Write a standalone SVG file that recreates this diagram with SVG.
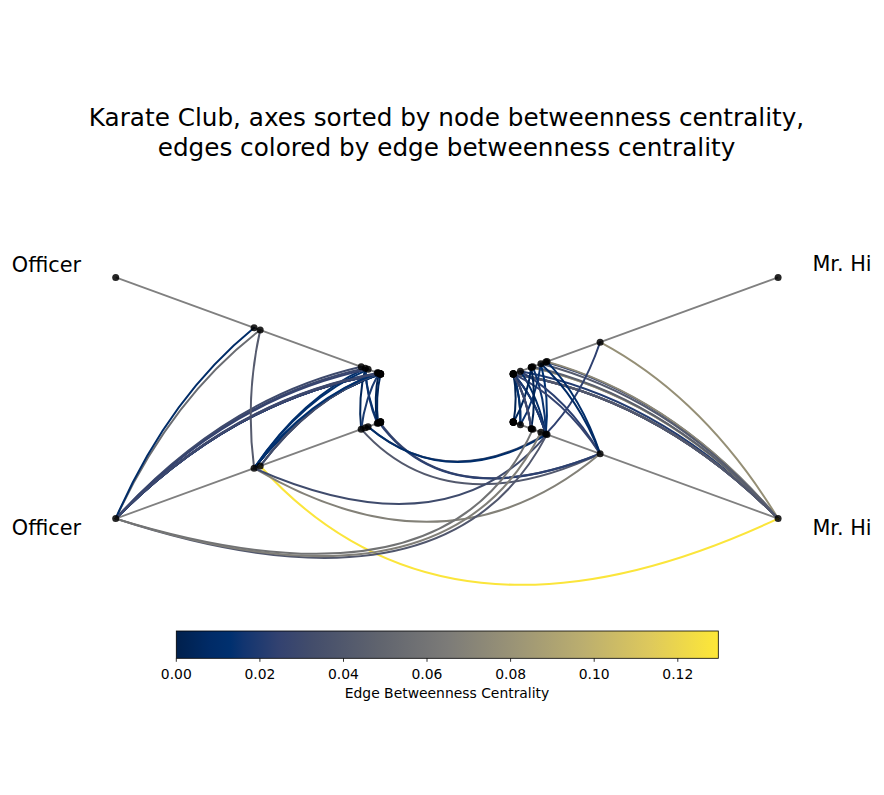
<svg xmlns="http://www.w3.org/2000/svg" width="884" height="795" viewBox="0 0 884 795">
<defs>
<style>
text{font-family:"DejaVu Sans","Liberation Sans",sans-serif;fill:#000}
.title{font-size:24.7px;text-anchor:middle}
.axlab{font-size:20.8px;text-anchor:middle}
.tick{font-size:13.9px;text-anchor:middle}
.axis{stroke:#808080;stroke-width:1.8;fill:none}
#edges path{fill:none;stroke-width:2;stroke-linecap:round}
.nd{fill:#000;fill-opacity:0.85}
</style>
<linearGradient id="cividis" x1="0" y1="0" x2="1" y2="0">
<stop offset="0" stop-color="#00204d"/>
<stop offset="0.063" stop-color="#002b67"/>
<stop offset="0.1" stop-color="#00306f"/>
<stop offset="0.125" stop-color="#123570"/>
<stop offset="0.19" stop-color="#334270"/>
<stop offset="0.25" stop-color="#434d6b"/>
<stop offset="0.375" stop-color="#60646e"/>
<stop offset="0.5" stop-color="#7c7b78"/>
<stop offset="0.625" stop-color="#9b9476"/>
<stop offset="0.75" stop-color="#bbae6f"/>
<stop offset="0.875" stop-color="#dec95c"/>
<stop offset="1" stop-color="#fee837"/>
</linearGradient>
</defs>
<rect width="884" height="795" fill="#fff"/>
<text class="title" x="446.5" y="125.7">Karate Club, axes sorted by node betweenness centrality,</text>
<text class="title" x="446.5" y="155.7">edges colored by edge betweenness centrality</text>

<g id="axes">
<line class="axis" x1="115.7" y1="277.4" x2="380.6" y2="373.9"/>
<line class="axis" x1="115.7" y1="518.6" x2="380.6" y2="422.1"/>
<line class="axis" x1="778.1" y1="518.6" x2="513.2" y2="422.1"/>
<line class="axis" x1="778.1" y1="277.4" x2="513.2" y2="373.9"/>
</g>
<g id="axis-labels">
<text class="axlab" x="46.5" y="271.5">Officer</text>
<text class="axlab" x="46.5" y="535">Officer</text>
<text class="axlab" x="842" y="271">Mr. Hi</text>
<text class="axlab" x="842" y="535">Mr. Hi</text>
</g>

<g id="edges">
<path d="M380.6,373.9 Q309.1,398 254.1,468.2" stroke="#002d6a"/>
<path d="M380.6,373.9 Q235.4,398 115.7,518.6" stroke="#2c4070"/>
<path d="M380.6,373.9 Q309.1,398 254.1,468.2" stroke="#002d6a"/>
<path d="M380.6,373.9 Q235.4,398 115.7,518.6" stroke="#2c4070"/>
<path d="M380.6,373.9 Q309.1,398 254.1,468.2" stroke="#002d6a"/>
<path d="M380.6,373.9 Q235.4,398 115.7,518.6" stroke="#2c4070"/>
<path d="M380.6,373.9 Q309.1,398 254.1,468.2" stroke="#002d6a"/>
<path d="M380.6,373.9 Q235.4,398 115.7,518.6" stroke="#2c4070"/>
<path d="M380.6,373.9 Q309.1,398 254.1,468.2" stroke="#002d6a"/>
<path d="M380.6,373.9 Q235.4,398 115.7,518.6" stroke="#2c4070"/>
<path d="M365.3,368.3 Q366.5,398 377.3,423.3" stroke="#1f3b70"/>
<path d="M365.3,368.3 Q357.9,398 361.2,429.2" stroke="#00265a"/>
<path d="M365.3,368.3 Q366.9,398 378.1,423.0" stroke="#06326f"/>
<path d="M365.3,368.3 Q300.9,398 254.1,468.2" stroke="#002e6b"/>
<path d="M365.3,368.3 Q227.3,398 115.7,518.6" stroke="#3c486d"/>
<path d="M378.7,373.2 Q373.6,398 377.3,423.3" stroke="#002252"/>
<path d="M378.7,373.2 Q365.0,398 361.2,429.2" stroke="#1a3a70"/>
<path d="M378.7,373.2 Q311.3,398 260.2,466.0" stroke="#4f566d"/>
<path d="M377.3,372.7 Q310.5,398 260.2,466.0" stroke="#565b6e"/>
<path d="M380.6,373.9 Q375.1,398 378.1,423.0" stroke="#00275c"/>
<path d="M380.6,373.9 Q235.4,398 115.7,518.6" stroke="#34436f"/>
<path d="M361.2,366.8 Q225.1,398 115.7,518.6" stroke="#3e4a6c"/>
<path d="M379.1,373.3 Q311.5,398 260.2,466.0" stroke="#414c6b"/>
<path d="M379.1,373.3 Q234.6,398 115.7,518.6" stroke="#00306f"/>
<path d="M378.1,373.0 Q307.7,398 254.1,468.2" stroke="#00306f"/>
<path d="M378.1,373.0 Q234.1,398 115.7,518.6" stroke="#3c486d"/>
<path d="M368.1,369.3 Q302.4,398 254.1,468.2" stroke="#00306f"/>
<path d="M368.1,369.3 Q228.7,398 115.7,518.6" stroke="#35436f"/>
<path d="M260.2,330.0 Q245.0,398 254.1,468.2" stroke="#565b6e"/>
<path d="M260.2,330.0 Q171.3,398 115.7,518.6" stroke="#6a6c71"/>
<path d="M254.1,327.8 Q168.1,398 115.7,518.6" stroke="#002c68"/>
<path d="M379.9,373.6 Q235.0,398 115.7,518.6" stroke="#3d486d"/>

<path d="M778.1,518.6 Q675.8,398 545.8,362.0" stroke="#34436f"/>
<path d="M778.1,518.6 Q704.7,398 600.1,342.2" stroke="#958f76"/>
<path d="M778.1,518.6 Q662.3,398 520.4,371.3" stroke="#233c70"/>
<path d="M778.1,518.6 Q658.6,398 513.5,373.8" stroke="#666970"/>
<path d="M778.1,518.6 Q668.1,398 531.3,367.3" stroke="#958f76"/>
<path d="M778.1,518.6 Q668.1,398 531.3,367.3" stroke="#958f76"/>
<path d="M778.1,518.6 Q658.4,398 513.2,373.9" stroke="#2c4070"/>
<path d="M778.1,518.6 Q676.4,398 547.0,361.6" stroke="#8e8977"/>
<path d="M778.1,518.6 Q658.6,398 513.5,373.8" stroke="#666970"/>
<path d="M778.1,518.6 Q658.4,398 513.2,373.9" stroke="#717274"/>
<path d="M778.1,518.6 Q658.4,398 513.2,373.9" stroke="#5c616e"/>
<path d="M778.1,518.6 Q673.2,398 540.9,363.8" stroke="#555b6e"/>
<path d="M778.1,518.6 Q658.4,398 513.2,373.9" stroke="#51576d"/>
<path d="M778.1,518.6 Q668.9,398 532.8,366.7" stroke="#5b606e"/>
<path d="M778.1,518.6 Q658.4,398 513.2,373.9" stroke="#51576d"/>
<path d="M545.8,434.0 Q581.1,398 600.1,342.2" stroke="#2e4070"/>
<path d="M545.8,434.0 Q538.7,398 520.4,371.3" stroke="#002b66"/>
<path d="M545.8,434.0 Q534.8,398 513.2,373.9" stroke="#002a65"/>
<path d="M545.8,434.0 Q549.6,398 540.9,363.8" stroke="#00306f"/>
<path d="M545.8,434.0 Q534.8,398 513.2,373.9" stroke="#1c3970"/>
<path d="M545.8,434.0 Q545.3,398 532.8,366.7" stroke="#0a3370"/>
<path d="M545.8,434.0 Q534.8,398 513.2,373.9" stroke="#1c3970"/>
<path d="M600.1,453.8 Q567.6,398 520.4,371.3" stroke="#2b3f70"/>
<path d="M600.1,453.8 Q563.7,398 513.2,373.9" stroke="#34436f"/>
<path d="M600.1,453.8 Q581.7,398 547.0,361.6" stroke="#002c69"/>
<path d="M600.1,453.8 Q578.5,398 540.9,363.8" stroke="#002a65"/>
<path d="M520.4,424.7 Q521.3,398 513.2,373.9" stroke="#002557"/>
<path d="M520.4,424.7 Q521.3,398 513.2,373.9" stroke="#00306f"/>
<path d="M520.4,424.7 Q536.1,398 540.9,363.8" stroke="#0b3370"/>
<path d="M513.5,422.3 Q527.3,398 531.3,367.3" stroke="#00275c"/>
<path d="M513.5,422.3 Q517.8,398 513.5,373.8" stroke="#002456"/>
<path d="M531.3,428.7 Q536.7,398 531.3,367.3" stroke="#002456"/>
<path d="M531.3,428.7 Q527.3,398 513.5,373.8" stroke="#00275c"/>
<path d="M531.3,428.7 Q527.1,398 513.2,373.9" stroke="#3d486d"/>
<path d="M531.3,428.7 Q527.1,398 513.2,373.9" stroke="#3d486d"/>

<path d="M260.2,466.0 Q446.9,673.6 778.1,518.6" stroke="#fbe53b"/>
<path d="M368.1,426.7 Q446.9,492.6 545.8,434.0" stroke="#434d6b"/>
<path d="M379.9,422.4 Q446.9,515.2 600.1,453.8" stroke="#404b6c"/>
<path d="M361.2,429.2 Q446.9,525.2 600.1,453.8" stroke="#53596d"/>
<path d="M379.1,422.7 Q446.9,515.7 600.1,453.8" stroke="#2c4070"/>
<path d="M254.1,468.2 Q446.9,582.2 600.1,453.8" stroke="#838178"/>
<path d="M368.1,426.7 Q446.9,493.2 547.0,434.4" stroke="#002d6a"/>
<path d="M254.1,468.2 Q446.9,553.9 547.0,434.4" stroke="#3f4b6c"/>
<path d="M115.7,518.6 Q446.9,627.5 547.0,434.4" stroke="#51576d"/>
<path d="M115.7,518.6 Q446.9,624.3 540.9,432.2" stroke="#817f78"/>
<path d="M115.7,518.6 Q446.9,620.0 532.8,429.3" stroke="#727374"/>
</g>

<g id="n33-officer"><circle class="nd" cx="115.7" cy="277.4" r="3.5"/></g>
<g id="n32-officer"><circle class="nd" cx="254.1" cy="327.8" r="3.5"/></g>
<g id="n31-officer"><circle class="nd" cx="260.2" cy="330.0" r="3.5"/></g>
<g id="n27-officer"><circle class="nd" cx="361.2" cy="366.8" r="3.5"/></g>
<g id="n23-officer"><circle class="nd" cx="365.3" cy="368.3" r="3.5"/></g>
<g id="n30-officer"><circle class="nd" cx="368.1" cy="369.3" r="3.5"/></g>
<g id="n25-officer"><circle class="nd" cx="377.3" cy="372.7" r="3.5"/></g>
<g id="n29-officer"><circle class="nd" cx="378.1" cy="373.0" r="3.5"/></g>
<g id="n24-officer"><circle class="nd" cx="378.7" cy="373.2" r="3.5"/></g>
<g id="n28-officer"><circle class="nd" cx="379.1" cy="373.3" r="3.5"/></g>
<g id="n9-officer"><circle class="nd" cx="379.9" cy="373.6" r="3.5"/></g>
<g id="n14-officer"><circle class="nd" cx="380.6" cy="373.9" r="3.5"/></g>
<g id="n15-officer"><circle class="nd" cx="380.6" cy="373.9" r="3.5"/></g>
<g id="n18-officer"><circle class="nd" cx="380.6" cy="373.9" r="3.5"/></g>
<g id="n20-officer"><circle class="nd" cx="380.6" cy="373.9" r="3.5"/></g>
<g id="n22-officer"><circle class="nd" cx="380.6" cy="373.9" r="3.5"/></g>
<g id="n26-officer"><circle class="nd" cx="380.6" cy="373.9" r="3.5"/></g>

<g id="n33-officer-repeat"><circle class="nd" cx="115.7" cy="518.6" r="3.5"/></g>
<g id="n32-officer-repeat"><circle class="nd" cx="254.1" cy="468.2" r="3.5"/></g>
<g id="n31-officer-repeat"><circle class="nd" cx="260.2" cy="466.0" r="3.5"/></g>
<g id="n27-officer-repeat"><circle class="nd" cx="361.2" cy="429.2" r="3.5"/></g>
<g id="n23-officer-repeat"><circle class="nd" cx="365.3" cy="427.7" r="3.5"/></g>
<g id="n30-officer-repeat"><circle class="nd" cx="368.1" cy="426.7" r="3.5"/></g>
<g id="n25-officer-repeat"><circle class="nd" cx="377.3" cy="423.3" r="3.5"/></g>
<g id="n29-officer-repeat"><circle class="nd" cx="378.1" cy="423.0" r="3.5"/></g>
<g id="n24-officer-repeat"><circle class="nd" cx="378.7" cy="422.8" r="3.5"/></g>
<g id="n28-officer-repeat"><circle class="nd" cx="379.1" cy="422.7" r="3.5"/></g>
<g id="n9-officer-repeat"><circle class="nd" cx="379.9" cy="422.4" r="3.5"/></g>
<g id="n14-officer-repeat"><circle class="nd" cx="380.6" cy="422.1" r="3.5"/></g>
<g id="n15-officer-repeat"><circle class="nd" cx="380.6" cy="422.1" r="3.5"/></g>
<g id="n18-officer-repeat"><circle class="nd" cx="380.6" cy="422.1" r="3.5"/></g>
<g id="n20-officer-repeat"><circle class="nd" cx="380.6" cy="422.1" r="3.5"/></g>
<g id="n22-officer-repeat"><circle class="nd" cx="380.6" cy="422.1" r="3.5"/></g>
<g id="n26-officer-repeat"><circle class="nd" cx="380.6" cy="422.1" r="3.5"/></g>

<g id="n0-mrhi"><circle class="nd" cx="778.1" cy="518.6" r="3.5"/></g>
<g id="n2-mrhi"><circle class="nd" cx="600.1" cy="453.8" r="3.5"/></g>
<g id="n8-mrhi"><circle class="nd" cx="547.0" cy="434.4" r="3.5"/></g>
<g id="n1-mrhi"><circle class="nd" cx="545.8" cy="434.0" r="3.5"/></g>
<g id="n13-mrhi"><circle class="nd" cx="540.9" cy="432.2" r="3.5"/></g>
<g id="n19-mrhi"><circle class="nd" cx="532.8" cy="429.3" r="3.5"/></g>
<g id="n5-mrhi"><circle class="nd" cx="531.3" cy="428.7" r="3.5"/></g>
<g id="n6-mrhi"><circle class="nd" cx="531.3" cy="428.7" r="3.5"/></g>
<g id="n3-mrhi"><circle class="nd" cx="520.4" cy="424.7" r="3.5"/></g>
<g id="n4-mrhi"><circle class="nd" cx="513.5" cy="422.3" r="3.5"/></g>
<g id="n10-mrhi"><circle class="nd" cx="513.5" cy="422.3" r="3.5"/></g>
<g id="n7-mrhi"><circle class="nd" cx="513.2" cy="422.1" r="3.5"/></g>
<g id="n11-mrhi"><circle class="nd" cx="513.2" cy="422.1" r="3.5"/></g>
<g id="n12-mrhi"><circle class="nd" cx="513.2" cy="422.1" r="3.5"/></g>
<g id="n16-mrhi"><circle class="nd" cx="513.2" cy="422.1" r="3.5"/></g>
<g id="n17-mrhi"><circle class="nd" cx="513.2" cy="422.1" r="3.5"/></g>
<g id="n21-mrhi"><circle class="nd" cx="513.2" cy="422.1" r="3.5"/></g>

<g id="n0-mrhi-repeat"><circle class="nd" cx="778.1" cy="277.4" r="3.5"/></g>
<g id="n2-mrhi-repeat"><circle class="nd" cx="600.1" cy="342.2" r="3.5"/></g>
<g id="n8-mrhi-repeat"><circle class="nd" cx="547.0" cy="361.6" r="3.5"/></g>
<g id="n1-mrhi-repeat"><circle class="nd" cx="545.8" cy="362.0" r="3.5"/></g>
<g id="n13-mrhi-repeat"><circle class="nd" cx="540.9" cy="363.8" r="3.5"/></g>
<g id="n19-mrhi-repeat"><circle class="nd" cx="532.8" cy="366.7" r="3.5"/></g>
<g id="n5-mrhi-repeat"><circle class="nd" cx="531.3" cy="367.3" r="3.5"/></g>
<g id="n6-mrhi-repeat"><circle class="nd" cx="531.3" cy="367.3" r="3.5"/></g>
<g id="n3-mrhi-repeat"><circle class="nd" cx="520.4" cy="371.3" r="3.5"/></g>
<g id="n4-mrhi-repeat"><circle class="nd" cx="513.5" cy="373.7" r="3.5"/></g>
<g id="n10-mrhi-repeat"><circle class="nd" cx="513.5" cy="373.7" r="3.5"/></g>
<g id="n7-mrhi-repeat"><circle class="nd" cx="513.2" cy="373.9" r="3.5"/></g>
<g id="n11-mrhi-repeat"><circle class="nd" cx="513.2" cy="373.9" r="3.5"/></g>
<g id="n12-mrhi-repeat"><circle class="nd" cx="513.2" cy="373.9" r="3.5"/></g>
<g id="n16-mrhi-repeat"><circle class="nd" cx="513.2" cy="373.9" r="3.5"/></g>
<g id="n17-mrhi-repeat"><circle class="nd" cx="513.2" cy="373.9" r="3.5"/></g>
<g id="n21-mrhi-repeat"><circle class="nd" cx="513.2" cy="373.9" r="3.5"/></g>

<g id="colorbar">
<rect x="176.3" y="631" width="542" height="27.3" fill="url(#cividis)" stroke="#000" stroke-width="0.8"/>
<g stroke="#000" stroke-width="0.8">
<line x1="176.3" y1="658.3" x2="176.3" y2="661.8"/>
<line x1="259.9" y1="658.3" x2="259.9" y2="661.8"/>
<line x1="343.5" y1="658.3" x2="343.5" y2="661.8"/>
<line x1="427.0" y1="658.3" x2="427.0" y2="661.8"/>
<line x1="510.6" y1="658.3" x2="510.6" y2="661.8"/>
<line x1="594.2" y1="658.3" x2="594.2" y2="661.8"/>
<line x1="677.8" y1="658.3" x2="677.8" y2="661.8"/>
</g>
<text class="tick" x="176.3" y="679">0.00</text>
<text class="tick" x="259.9" y="679">0.02</text>
<text class="tick" x="343.5" y="679">0.04</text>
<text class="tick" x="427.0" y="679">0.06</text>
<text class="tick" x="510.6" y="679">0.08</text>
<text class="tick" x="594.2" y="679">0.10</text>
<text class="tick" x="677.8" y="679">0.12</text>
<text class="tick" x="447" y="698">Edge Betweenness Centrality</text>
</g>
</svg>
